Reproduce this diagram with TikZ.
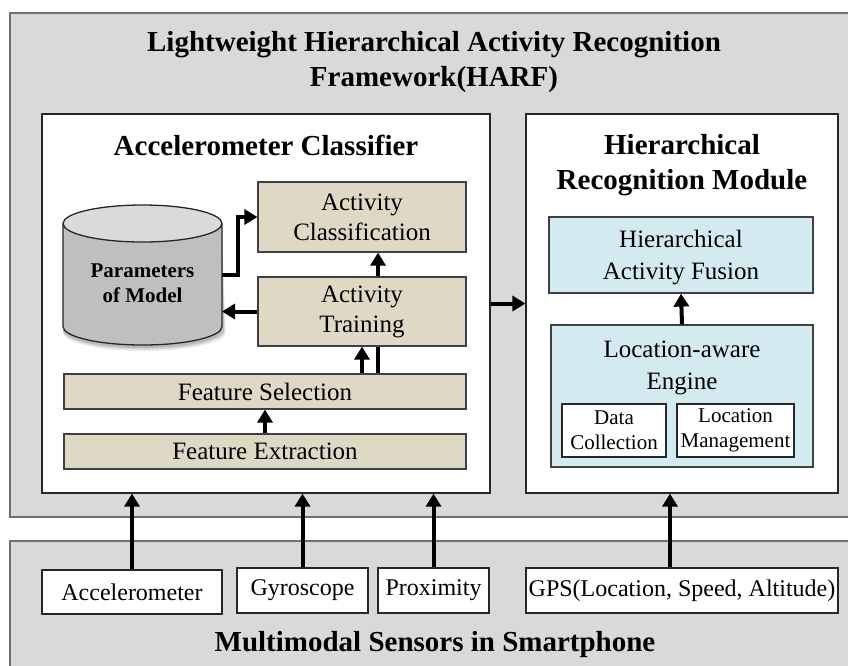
\documentclass[tikz,border=0pt]{standalone}
\usepackage{fontspec}
\setmainfont{Liberation Serif}
\usetikzlibrary{arrows.meta}
\definecolor{panel}{HTML}{D9D9D9}
\definecolor{panelline}{HTML}{707070}
\definecolor{tanfill}{HTML}{DDD9C4}
\definecolor{aquafill}{HTML}{D3EAF0}
\definecolor{cylbody}{HTML}{BFBFBF}
\definecolor{cyltop}{HTML}{DADADA}
\begin{document}
\begin{tikzpicture}[x=1pt,y=-1pt,
  panelbox/.style={fill=panel, draw=panelline, line width=1.5pt},
  modbox/.style={draw=black!85, fill=white, line width=1.2pt, inner sep=0pt},
  tanbox/.style={draw=black!75, fill=tanfill, line width=1.2pt, inner sep=0pt, align=center, font=\fontsize{25}{30}\selectfont},
  aquabox/.style={draw=black!75, fill=aquafill, line width=1.2pt, inner sep=0pt, align=center, font=\fontsize{25}{32}\selectfont},
  smallbox/.style={draw=black!85, fill=white, line width=1.2pt, inner sep=0pt, align=center, font=\fontsize{21}{25}\selectfont},
  sensorbox/.style={draw=black!85, fill=white, line width=1.2pt, inner sep=0pt, align=center, font=\fontsize{24}{28}\selectfont},
  ttl/.style={font=\fontsize{29}{35}\selectfont\bfseries, align=center, inner sep=0pt},
  arr/.style={line width=4pt, -{Triangle[width=15pt,length=13pt]}},
  plainline/.style={line width=4pt},
]
\useasboundingbox (0,0) rectangle (848,665);
\clip (0,0) rectangle (848,665);

% panels
\draw[panelbox] (10,13) rectangle (870,517);
\draw[panelbox] (10,541) rectangle (870,690);

\node[ttl] (title) at (434,62) {Lightweight Hierarchical Activity Recognition\\Framework(HARF)};

% module boxes
\node[modbox, minimum width=448, minimum height=379] (acc) at (266,303.5) {};
\node[modbox, minimum width=312, minimum height=379] (rhm) at (682,303.5) {};
\node[ttl] (acctitle) at (266,145) {Accelerometer Classifier};
\node[ttl] (rhmtitle) at (682,165.5) {Hierarchical\\Recognition Module};

% accelerometer classifier content
\node[tanbox, minimum width=208, minimum height=70] (cls) at (362,217) {Activity\\Classification};
\node[tanbox, minimum width=208, minimum height=69] (tr) at (362,311.5) {Activity\\Training};
\node[tanbox, minimum width=402, minimum height=35] (fs) at (265,391.5) {Feature Selection};
\node[tanbox, minimum width=402, minimum height=35] (fe) at (265,451.5) {Feature Extraction};

% cylinder
\foreach \o/\a in {6/0.08,4.5/0.1,3/0.12}{
  \fill[black, opacity=\a] (63,223.5+\o) -- (63,326.5+\o) arc[start angle=180,end angle=360,x radius=79.5pt+\o pt*0.3,y radius=18.5pt] -- (222,223.5+\o) -- cycle;
}
\fill[cylbody] (63,223.5) -- (63,326.5) arc[start angle=180,end angle=360,x radius=79.5pt,y radius=18.5pt] -- (222,223.5) arc[start angle=0,end angle=180,x radius=79.5pt,y radius=18.5pt] -- cycle;
\draw[line width=1.3pt, black!85] (63,223.5) -- (63,326.5) arc[start angle=180,end angle=360,x radius=79.5pt,y radius=18.5pt] -- (222,223.5);
\draw[line width=1.3pt, black!85, fill=cyltop] (142.5,223.5) ellipse [x radius=79.5pt, y radius=18.5pt];
\node[minimum width=159, minimum height=140, inner sep=0pt, outer sep=0pt] (cyl) at (142.5,275) {};
\node[font=\fontsize{21}{25}\selectfont\bfseries, align=center, inner sep=0pt] (cyltxt) at (142.5,283) {Parameters\\of Model};

% hierarchical recognition module content
\node[aquabox, minimum width=264, minimum height=76] (haf) at (681,255) {};
\node[font=\fontsize{25}{32}\selectfont, align=center, inner sep=0pt] (haftxt) at (681,258) {Hierarchical\\Activity Fusion};
\node[aquabox, minimum width=262, minimum height=142] (lae) at (682,396) {};
\node[font=\fontsize{25}{32}\selectfont, align=center, inner sep=0pt] (laetxt) at (682,368) {Location-aware\\Engine};
\node[smallbox, minimum width=104, minimum height=53] (dc) at (614,430.5) {Data\\Collection};
\node[smallbox, minimum width=117, minimum height=53] (lm) at (735.5,430.5) {Location\\Management};

% sensors
\node[sensorbox, minimum width=180, minimum height=44] (sacc) at (132,592) {Accelerometer};
\node[sensorbox, minimum width=131, minimum height=45] (sgyr) at (302.5,590.5) {Gyroscope};
\node[sensorbox, minimum width=111, minimum height=45] (sprox) at (433.5,590.5) {Proximity};
\node[sensorbox, minimum width=312, minimum height=45] (sgps) at (682,590.5) {GPS(Location, Speed, Altitude)};
\node[ttl] (senstitle) at (435,645) {Multimodal Sensors in Smartphone};

% connectors
\draw[arr] (sacc.north) -- (sacc.north |- acc.south);
\draw[arr] (sgyr.north) -- (sgyr.north |- acc.south);
\draw[arr] (sprox.north) -- (sprox.north |- acc.south);
\draw[arr] ([xshift=-12pt]sgps.north) -- ([xshift=-12pt]sgps.north |- rhm.south);
\draw[arr] (acc.east) -- (rhm.west);
\draw[arr] (fe.north) -- (fs.south);
\draw[arr] (tr.south |- fs.north) -- (tr.south);
\draw[plainline] ([xshift=16pt]tr.south) -- ([xshift=16pt]tr.south |- fs.north);
\draw[arr] ([xshift=16pt]tr.north) -- ([xshift=16pt]cls.south);
\draw[arr] (tr.west) -- (tr.west -| cyl.east);
\draw[arr] (cyl.east) -- ++(16,0) |- (cls.west);
\draw[arr] (lae.north) -- (haf.south);
\end{tikzpicture}
\end{document}
